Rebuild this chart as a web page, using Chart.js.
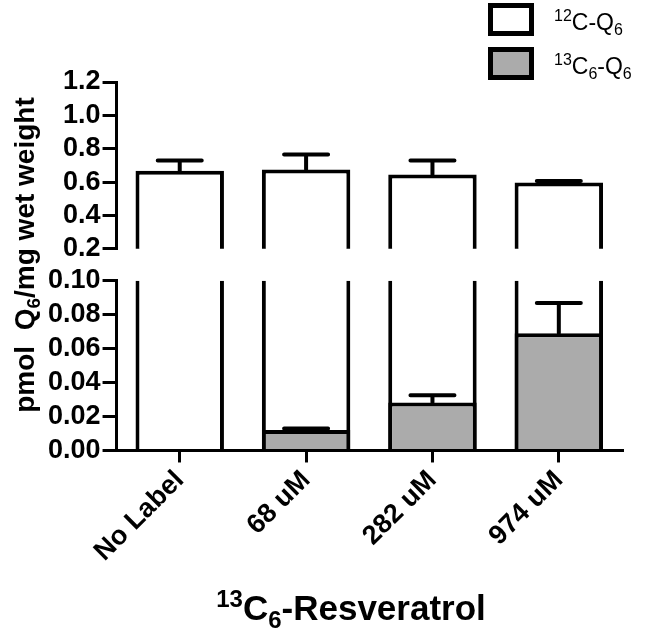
<!DOCTYPE html>
<html>
<head>
<meta charset="utf-8">
<script src="https://cdn.jsdelivr.net/npm/chart.js@4.4.1/dist/chart.umd.min.js"></script>
<style>
  html, body { margin: 0; padding: 0; background: #fff; }
  #wrap { width: 670px; height: 634px; }
</style>
</head>
<body>
<div id="wrap"><canvas id="resv"></canvas></div>
<script>
// data (mean + SEM)
const doses = ['No Label', '68 uM', '282 uM', '974 uM'];
const q6Unlabeled = [0.668, 0.676, 0.645, 0.598];
const q6UnlabeledSem = [0.062, 0.089, 0.085, 0.008];
const q6Labeled = [0, 0.0121, 0.0283, 0.0690];
const q6LabeledSem = [0, 0.0008, 0.0042, 0.0178];
const upperTicks = [0.2, 0.4, 0.6, 0.8, 1.0, 1.2];
const lowerTicks = [0, 0.02, 0.04, 0.06, 0.08, 0.10];
const seriesNames = ['^{12}C-Q_{6}', '^{13}C_{6}-Q_{6}'];
const yTitle = 'pmol  Q_{6}/mg wet weight';
const xTitle = '^{13}C_{6}-Resveratrol';

const FONT = "'Liberation Sans', Arial, sans-serif";
const GREY = '#ababab';

// tiny markup: ^{..} superscript, _{..} subscript
function parseRich(str) {
  const parts = [];
  const re = /([\^_])\{([^}]*)\}|([^\^_]+)/g;
  let m;
  while ((m = re.exec(str))) {
    if (m[1]) parts.push({ t: m[2], s: m[1] === '^' ? 'sup' : 'sub' });
    else parts.push({ t: m[3], s: '' });
  }
  return parts;
}

function drawRich(ctx, str, x, y, size, weight, align) {
  const parts = parseRich(str);
  const small = Math.round(size * 0.68);
  let total = 0;
  parts.forEach(p => {
    ctx.font = weight + ' ' + (p.s ? small : size) + 'px ' + FONT;
    p.w = ctx.measureText(p.t).width;
    total += p.w;
  });
  let cx = align === 'center' ? x - total / 2 : x;
  ctx.textAlign = 'left';
  ctx.textBaseline = 'alphabetic';
  parts.forEach(p => {
    ctx.font = weight + ' ' + (p.s ? small : size) + 'px ' + FONT;
    let dy = 0;
    if (p.s === 'sup') dy = -size * 0.38;
    if (p.s === 'sub') dy = size * 0.22;
    ctx.fillText(p.t, cx, y + dy);
    cx += p.w;
  });
}

// keep each dataset inside its own axis segment
const segmentClip = {
  id: 'segmentClip',
  beforeDatasetDraw(chart, args) {
    const ys = chart.scales[args.meta.yAxisID];
    const ctx = chart.ctx;
    ctx.save();
    ctx.beginPath();
    ctx.rect(0, ys.top, chart.width, ys.height + 2);
    ctx.clip();
  },
  afterDatasetDraw(chart) {
    chart.ctx.restore();
  }
};

const errorBars = {
  id: 'errorBars',
  afterDatasetsDraw(chart) {
    const ctx = chart.ctx;
    chart.data.datasets.forEach((ds, i) => {
      if (!ds.sem) return;
      const meta = chart.getDatasetMeta(i);
      const ys = chart.scales[meta.yAxisID];
      ctx.save();
      ctx.strokeStyle = '#000';
      ctx.lineWidth = 4;
      ctx.lineCap = 'round';
      meta.data.forEach((bar, j) => {
        if (!ds.sem[j]) return;
        const y0 = ys.getPixelForValue(ds.data[j]);
        const y1 = ys.getPixelForValue(ds.data[j] + ds.sem[j]);
        ctx.beginPath();
        ctx.moveTo(bar.x, y0);
        ctx.lineTo(bar.x, y1);
        ctx.moveTo(bar.x - 22, y1);
        ctx.lineTo(bar.x + 22, y1);
        ctx.stroke();
      });
      ctx.restore();
    });
  }
};

const annotations = {
  id: 'annotations',
  afterDraw(chart) {
    const ctx = chart.ctx;
    ctx.save();
    ctx.fillStyle = '#000';
    // axis titles
    drawRich(ctx, xTitle, 351, 620, 35, 'bold', 'center');
    ctx.save();
    ctx.translate(34, 255);
    ctx.rotate(-Math.PI / 2);
    drawRich(ctx, yTitle, 0, 0, 28, 'bold', 'center');
    ctx.restore();
    // legend
    const fills = ['#fff', GREY];
    seriesNames.forEach((name, k) => {
      const top = 5.5 + k * 44;
      ctx.fillStyle = fills[k];
      ctx.fillRect(490.5, top, 41, 28);
      ctx.strokeStyle = '#000';
      ctx.lineWidth = 5;
      ctx.strokeRect(490.5, top, 41, 28);
      ctx.fillStyle = '#000';
      drawRich(ctx, name, 554, top + 24, 23, 'normal', 'left');
    });
    ctx.restore();
  }
};

const tickFont = { family: FONT, size: 27, weight: 'bold' };
const axisGrid = { drawOnChartArea: false, drawTicks: true, tickLength: 14, lineWidth: 3, color: '#000' };
const axisBorder = { color: '#000', width: 3 };

const barStyle = {
  borderColor: '#000',
  borderWidth: 4,
  borderSkipped: 'start',
  grouped: false,
  barPercentage: 0.7,
  categoryPercentage: 1
};

new Chart(document.getElementById('resv'), {
  type: 'bar',
  data: {
    labels: doses,
    datasets: [
      Object.assign({ label: '13C6-Q6', data: q6Labeled, sem: q6LabeledSem, yAxisID: 'yLow', backgroundColor: GREY, order: 0 }, barStyle),
      Object.assign({ label: '12C-Q6', data: q6Unlabeled, yAxisID: 'yLow', backgroundColor: '#fff', order: 1 }, barStyle),
      Object.assign({ label: '12C-Q6', data: q6Unlabeled, sem: q6UnlabeledSem, yAxisID: 'yHigh', backgroundColor: '#fff', order: 1 }, barStyle)
    ]
  },
  options: {
    responsive: true,
    maintainAspectRatio: false,
    animation: false,
    layout: { padding: { top: 82, left: 46, right: 48, bottom: 64 } },
    plugins: {
      legend: { display: false },
      tooltip: { enabled: false }
    },
    scales: {
      x: {
        offset: true,
        grid: Object.assign({}, axisGrid, { offset: false, tickLength: 12 }),
        border: axisBorder,
        ticks: { color: '#000', font: tickFont, minRotation: 45, maxRotation: 45, padding: 2, autoSkip: false }
      },
      yLow: {
        type: 'linear',
        position: 'left',
        stack: 'left',
        stackWeight: 170,
        min: 0,
        max: 0.1,
        afterBuildTicks: s => { s.ticks = lowerTicks.map(v => ({ value: v })); },
        grid: axisGrid,
        border: axisBorder,
        ticks: { color: '#000', font: tickFont, padding: 2, autoSkip: false, callback: v => v.toFixed(2) }
      },
      yGap: {
        type: 'linear',
        position: 'left',
        stack: 'left',
        stackWeight: 32,
        display: false
      },
      yHigh: {
        type: 'linear',
        position: 'left',
        stack: 'left',
        stackWeight: 167,
        min: 0.2,
        max: 1.2,
        afterBuildTicks: s => { s.ticks = upperTicks.map(v => ({ value: v })); },
        grid: axisGrid,
        border: axisBorder,
        ticks: { color: '#000', font: tickFont, padding: 2, autoSkip: false, callback: v => v.toFixed(1) }
      }
    }
  },
  plugins: [segmentClip, errorBars, annotations]
});
</script>
</body>
</html>
